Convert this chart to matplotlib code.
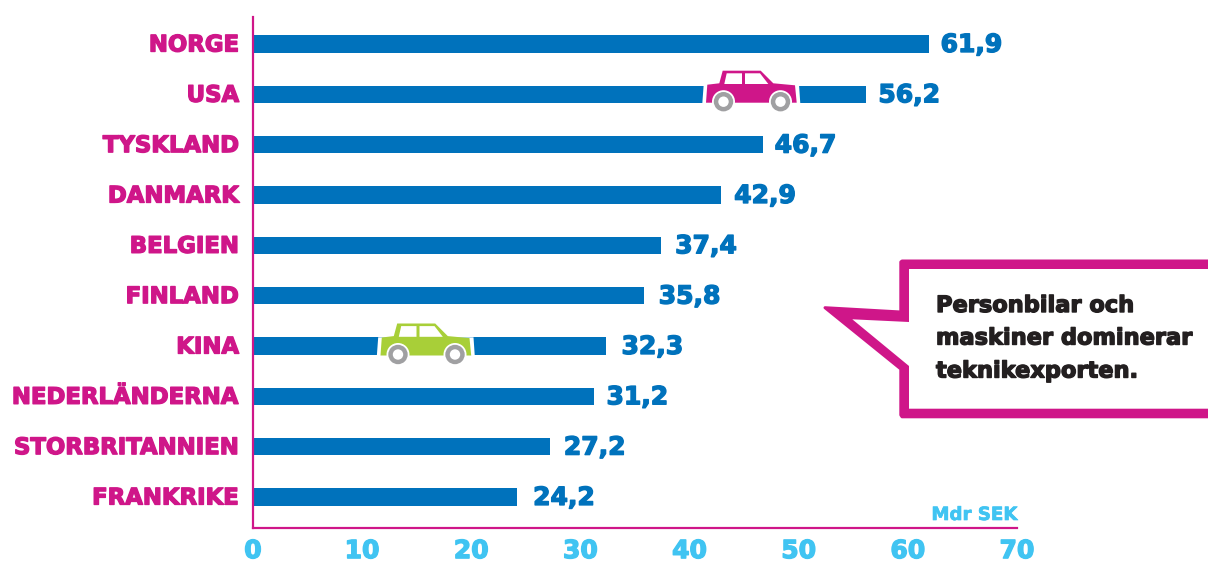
import matplotlib
matplotlib.use("Agg")
import matplotlib.pyplot as plt
import matplotlib.patheffects as pe
from matplotlib.patches import Polygon, Circle
from matplotlib.transforms import ScaledTranslation

countries = ["NORGE", "USA", "TYSKLAND", "DANMARK", "BELGIEN", "FINLAND", "KINA",
             "NEDERLÄNDERNA", "STORBRITANNIEN", "FRANKRIKE"]
values = [61.9, 56.2, 46.7, 42.9, 37.4, 35.8, 32.3, 31.2, 27.2, 24.2]
x_ticks = [0, 10, 20, 30, 40, 50, 60, 70]
unit_label = "Mdr SEK"
callout_lines = ["Personbilar och", "maskiner dominerar", "teknikexporten."]

# gap between bar end and value label, pixels
label_gaps = [12, 12, 12, 13, 14, 15, 16, 13, 14, 16]

W, H = 1208, 561
magenta = "#cf1689"
blue = "#0072bc"
cyan = "#40c4f2"
dark = "#231f20"
font = "DejaVu Sans"


def px(v):
    return v * 72 / 100


def fat(color, lw=1.0):
    return [pe.withStroke(linewidth=lw, foreground=color)]


fig = plt.figure(figsize=(W / 100, H / 100), dpi=100)
ax = fig.add_axes([253 / W, 1 - 528 / H, (1017 - 253) / W, (528 - 17) / H])
ax.barh(range(len(values)), values, height=0.34, color=blue)
ax.set_xlim(0, 70)
ax.set_ylim(9.617, -0.536)

for s in ["top", "right"]:
    ax.spines[s].set_visible(False)
for s in ["left", "bottom"]:
    ax.spines[s].set_color(magenta)
    ax.spines[s].set_linewidth(px(2.2))

ax.set_yticks(range(len(countries)), countries)
ax.set_xticks(x_ticks)
ax.tick_params(axis="y", length=0, pad=10)
ax.tick_params(axis="x", length=0, pad=8)
up = ScaledTranslation(0, 1.5 / 100, fig.dpi_scale_trans)
for t in ax.get_yticklabels():
    t.set(family=font, weight="bold", size=16.4, color=magenta, path_effects=fat(magenta))
    t.set_transform(t.get_transform() + up)
for t in ax.get_xticklabels():
    t.set(family=font, weight="bold", size=18, color=cyan, path_effects=fat(cyan))

for i, v in enumerate(values):
    ax.annotate(f"{v:.1f}".replace(".", ","), (v, i), xytext=(px(label_gaps[i]), px(1.5)),
                textcoords="offset points", va="center_baseline", ha="left",
                family=font, weight="bold", size=18, color=blue, path_effects=fat(blue))

ax.annotate(unit_label, (70, 9.617), xytext=(0, px(4)), textcoords="offset points",
            ha="right", va="bottom", family=font, weight="bold", size=13.1, color=cyan,
            path_effects=fat(cyan, 0.5), annotation_clip=False)

# overlay in image pixels for the cars and the speech bubble
ov = fig.add_axes([0, 0, 1, 1], facecolor="none")
ov.set_xlim(0, W)
ov.set_ylim(H, 0)
ov.axis("off")


def draw_car(cx, cy, color):
    # white cut through the bar
    ov.add_patch(Polygon([(cx - 47.8, cy - 9.5), (cx - 49.2, cy + 9.5),
                          (cx + 48.8, cy + 9.5), (cx + 47.5, cy - 9.5)], fc="white", ec="none"))
    body = [(-45.5, 8.7), (-44.2, -9.3), (-32.2, -10.7), (-28.8, -23.3), (9.2, -23.3),
            (21.8, -10.7), (43.5, -8.7), (45.2, 8.7)]
    ov.add_patch(Polygon([(cx + a, cy + b) for a, b in body], fc=color, ec="none"))
    win1 = [(-27.2, -10), (-24.8, -20.7), (-9.5, -20.7), (-9.5, -10)]
    win2 = [(-6.5, -10), (-6.5, -20.7), (8.5, -20.7), (16.8, -10)]
    for w in (win1, win2):
        ov.add_patch(Polygon([(cx + a, cy + b) for a, b in w], fc="white", ec="none"))
    for wx in (-28, 29):
        ov.add_patch(Circle((cx + wx, cy + 7.7), 11.5, fc="white", ec="none"))
        ov.add_patch(Circle((cx + wx, cy + 7.7), 9.7, fc="#a0a0a2", ec="none"))
        ov.add_patch(Circle((cx + wx, cy + 7.7), 5.2, fc="white", ec="none"))


draw_car(751.5, 94, magenta)
draw_car(426, 346.8, "#a8cf38")

outer = [(1215, 261), (902, 261), (900.8, 262), (900.8, 312), (825, 307.7), (900.8, 369),
         (900.8, 415), (902, 416.8), (1215, 416.8)]
inner = [(1215, 269), (909, 269), (909, 322), (852.3, 319.3), (909, 366), (909, 408.7),
         (1215, 408.7)]
ov.add_patch(Polygon(outer, fc=magenta, ec=magenta, lw=px(3), joinstyle="round"))
ov.add_patch(Polygon(inner, fc="white", ec="none"))

for line, y in zip(callout_lines, [312, 344.5, 377.5]):
    ov.text(936, y, line, family=font, weight="bold", size=16.2, color=dark, va="baseline",
            ha="left", path_effects=fat(dark))

fig.savefig("out.png", dpi=100)
